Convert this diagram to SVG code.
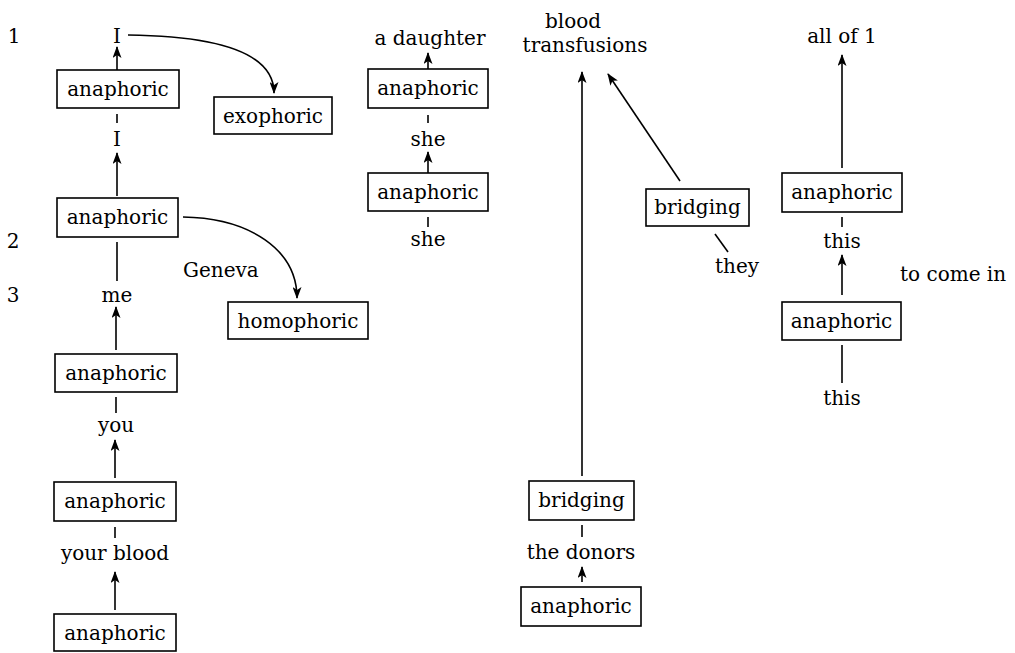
<svg xmlns="http://www.w3.org/2000/svg" width="1015" height="653" viewBox="0 0 1015 653">
  <style>
    text { font-family: "DejaVu Serif", "Liberation Serif", serif; font-size: 20px; fill: #000; }
    .mid { text-anchor: middle; }
    .box { fill: #fff; stroke: #000; stroke-width: 1.6; }
    .ln { fill: none; stroke: #000; stroke-width: 1.6; }
    .arr { fill: none; stroke: #000; stroke-width: 1.6; marker-end: url(#head); }
  </style>
  <defs>
    <marker id="head" markerUnits="userSpaceOnUse" markerWidth="13" markerHeight="9" refX="11" refY="4.5" orient="auto">
      <path d="M0,0 L12,4.5 L0,9 L3,4.5 z" fill="#000"/>
    </marker>
  </defs>
  <rect width="1015" height="653" fill="#fff"/>

  <!-- sentence numbers -->
  <g id="numbers">
    <text x="14" y="43" class="mid">1</text>
    <text x="13" y="248" class="mid">2</text>
    <text x="13" y="302" class="mid">3</text>
  </g>

  <!-- connectors -->
  <g id="connectors">
    <!-- left chain -->
    <path class="arr" d="M117,70 L117,47"/>
    <path class="ln" d="M117,114 L117,123"/>
    <path class="arr" d="M117,196 L117,153"/>
    <path class="ln" d="M117,242 L117,281"/>
    <path class="arr" d="M116,350 L116,307"/>
    <path class="ln" d="M116,397 L116,413"/>
    <path class="arr" d="M115,478 L115,440"/>
    <path class="ln" d="M115,527 L115,538"/>
    <path class="arr" d="M115,610 L115,572"/>
    <path class="arr" d="M128,35 C215,36 274,52 274,93"/>
    <path class="arr" d="M183,217 C250,218 297,250 297,298"/>
    <!-- she chain -->
    <path class="arr" d="M428,69 L428,53"/>
    <path class="ln" d="M428,115 L428,123"/>
    <path class="arr" d="M428,173 L428,152"/>
    <path class="ln" d="M428,217 L428,227"/>
    <!-- bridging -->
    <path class="arr" d="M582,476 L582,72"/>
    <path class="arr" d="M680,181 L608,74"/>
    <path class="ln" d="M715,234 L728,252"/>
    <path class="ln" d="M582,525 L582,537"/>
    <path class="arr" d="M582,582 L582,567"/>
    <!-- this chain -->
    <path class="arr" d="M842,168 L842,55"/>
    <path class="ln" d="M842,217 L842,227"/>
    <path class="arr" d="M842,295 L842,255"/>
    <path class="ln" d="M842,345 L842,383"/>
  </g>

  <!-- word labels -->
  <g id="words">
    <text x="117" y="43" class="mid">I</text>
    <text x="117" y="146" class="mid">I</text>
    <text x="117" y="302" class="mid">me</text>
    <text x="116" y="432" class="mid">you</text>
    <text x="115" y="560" class="mid">your blood</text>
    <text x="183" y="277">Geneva</text>
    <text x="430" y="45" class="mid">a daughter</text>
    <text x="428" y="146" class="mid">she</text>
    <text x="428" y="246" class="mid">she</text>
    <text x="545" y="28">blood</text>
    <text x="585" y="52" class="mid">transfusions</text>
    <text x="715" y="273">they</text>
    <text x="581" y="559" class="mid">the donors</text>
    <text x="842" y="43" class="mid">all of 1</text>
    <text x="842" y="248" class="mid">this</text>
    <text x="900" y="281">to come in</text>
    <text x="842" y="405" class="mid">this</text>
  </g>

  <!-- nodes -->
  <g id="n-ana1"><rect class="box" x="57" y="70" width="122" height="38"/><text x="118" y="96" class="mid">anaphoric</text></g>
  <g id="n-exo"><rect class="box" x="214" y="97" width="118" height="37"/><text x="273" y="123" class="mid">exophoric</text></g>
  <g id="n-ana2"><rect class="box" x="57" y="198" width="121" height="39"/><text x="117.5" y="224" class="mid">anaphoric</text></g>
  <g id="n-homo"><rect class="box" x="228" y="302" width="140" height="37"/><text x="298" y="328" class="mid">homophoric</text></g>
  <g id="n-ana3"><rect class="box" x="55" y="354" width="122" height="38"/><text x="116" y="380" class="mid">anaphoric</text></g>
  <g id="n-ana4"><rect class="box" x="54" y="482" width="122" height="39"/><text x="115" y="508" class="mid">anaphoric</text></g>
  <g id="n-ana5"><rect class="box" x="54" y="614" width="122" height="37"/><text x="115" y="640" class="mid">anaphoric</text></g>
  <g id="n-ana6"><rect class="box" x="368" y="69" width="120" height="39"/><text x="428" y="95" class="mid">anaphoric</text></g>
  <g id="n-ana7"><rect class="box" x="368" y="173" width="120" height="38"/><text x="428" y="199" class="mid">anaphoric</text></g>
  <g id="n-bridge1"><rect class="box" x="646" y="189" width="103" height="37"/><text x="697.5" y="214" class="mid">bridging</text></g>
  <g id="n-bridge2"><rect class="box" x="529" y="481" width="105" height="39"/><text x="581.5" y="507" class="mid">bridging</text></g>
  <g id="n-ana8"><rect class="box" x="521" y="587" width="120" height="39"/><text x="581" y="613" class="mid">anaphoric</text></g>
  <g id="n-ana9"><rect class="box" x="782" y="173" width="120" height="39"/><text x="842" y="199" class="mid">anaphoric</text></g>
  <g id="n-ana10"><rect class="box" x="782" y="302" width="119" height="38"/><text x="841.5" y="328" class="mid">anaphoric</text></g>
</svg>
